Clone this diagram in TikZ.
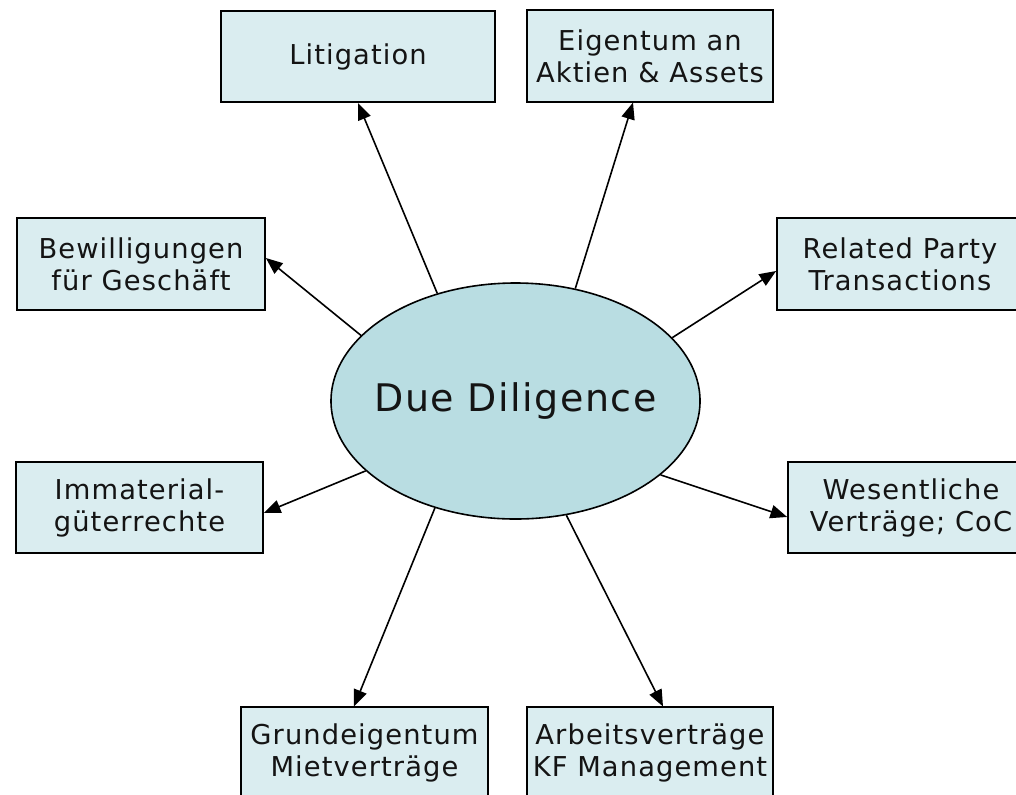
\documentclass[tikz,border=0pt]{standalone}
\usepackage{fontspec}
\setmainfont{DejaVu Sans}[LetterSpace=4]
\usetikzlibrary{arrows.meta,shapes.geometric}
\definecolor{boxfill}{RGB}{218,237,240}
\definecolor{ellfill}{RGB}{185,221,226}
\definecolor{txt}{RGB}{20,20,20}
\tikzset{
  topic/.style={draw=black, line width=1.3pt, fill=boxfill, rectangle, inner sep=0pt,
    align=center, font=\fontsize{20.5pt}{24pt}\selectfont, text=txt,
    minimum height=68.5pt},
  hub/.style={draw=black, line width=1.2pt, fill=ellfill, ellipse, inner sep=0pt,
    minimum width=276.75pt, minimum height=177pt,
    font=\fontsize{28.5pt}{32pt}\selectfont, text=txt},
  arr/.style={line width=1.2pt, -{Triangle[length=12.5pt,width=10pt]}}
}
\begin{document}
\begin{tikzpicture}[x=0.75pt,y=-0.75pt]
\useasboundingbox (0,0) rectangle (1016,794);
\clip (0,0) rectangle (1016,794);
\node[hub] (dd) at (515.5,401) {\makebox[0pt]{Due Diligence}};
\node[topic, minimum width=205.5pt] (lit) at (358,56.5) {Litigation};
\node[topic, minimum width=184.5pt] (eig) at (650,56) {Eigentum an\\Aktien \& Assets};
\node[topic, minimum width=186pt] (bew) at (141,264) {Bewilligungen\\für Geschäft};
\node[topic, minimum width=184.5pt] (rel) at (900,264) {Related Party\\Transactions};
\node[topic, minimum width=185.25pt] (imm) at (139.5,507.5) {Immaterial-\\güterrechte};
\node[topic, minimum width=184.5pt] (wes) at (911,507.5) {Wesentliche\\Verträge; CoC};
\node[topic, minimum width=185.25pt] (gru) at (364.5,753) {Grundeigentum\\Mietverträge};
\node[topic, minimum width=184.5pt] (arb) at (650,753) {Arbeitsverträge\\KF Management};
\draw[arr] (dd.126.9) -- (lit.south);
\draw[arr] (dd.62.3) -- ([xshift=-12.75pt]eig.south);
\draw[arr] (dd.157.2) -- ([yshift=4.5pt]bew.east);
\draw[arr] (dd.22.9) -- ([yshift=-5.25pt]rel.west);
\draw[arr] (dd.205.1) -- ([yshift=-4.1pt]imm.east);
\draw[arr] (dd.333.8) -- ([yshift=-7.1pt]wes.west);
\draw[arr] (dd.233.4) -- ([xshift=-7.9pt]gru.north);
\draw[arr] (dd.294.7) -- ([xshift=9.75pt]arb.north);
\end{tikzpicture}
\end{document}
